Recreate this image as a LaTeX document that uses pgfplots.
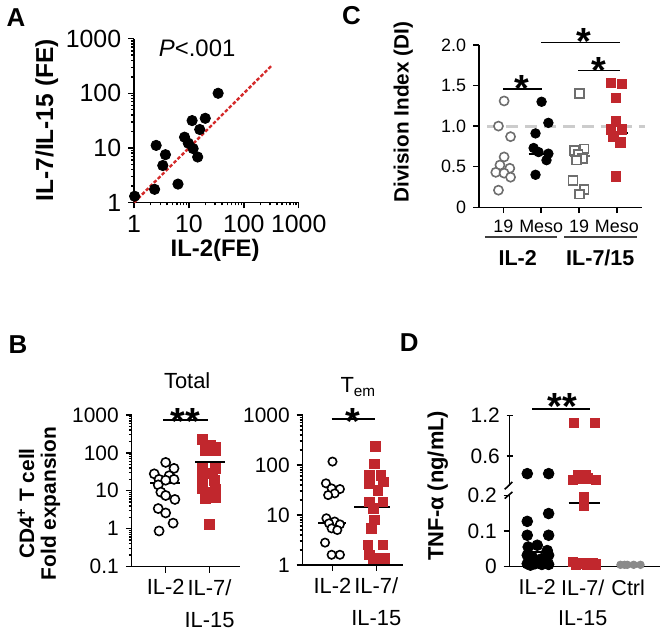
\documentclass[border=0pt]{standalone}
\usepackage{fontspec}
\setmainfont{Liberation Sans}
\usepackage{pgfplots}
\pgfplotsset{compat=1.18}
\definecolor{myred}{HTML}{C1272D}
\definecolor{lred}{HTML}{D42A2A}
\definecolor{dgray}{HTML}{6E6E6E}
\definecolor{lgray}{HTML}{CCCCCC}
\definecolor{cgray}{HTML}{8A8A8A}

\pgfplotsset{
  panel/.style={scale only axis, anchor=south west, axis lines=left,
    axis line style={-, line width=0.7pt}, tick align=outside,
    tick style={line width=0.7pt, black}, major tick length=3pt,
    minor tick length=1.5pt, clip=false},
  open circ/.style={only marks, mark=*, mark options={draw=#1, fill=white, line width=0.8pt}},
  med/.style={black, line width=1pt},
}
\newcommand{\fs}[1]{\fontsize{#1}{#1}\selectfont}

\begin{document}
\begin{tikzpicture}
\begin{scope}[x=0.5pt,y=-0.5pt]
\useasboundingbox (0,0) rectangle (664,632);
\end{scope}

% ---- A: scatter IL-2 vs IL-7/IL-15
\begin{axis}[panel, at={(65.85pt,-101.25pt)}, width=82.65pt, height=82.25pt,
  xmode=log, ymode=log, xmin=1, xmax=1000, ymin=1, ymax=1000,
  xtick={1,10,100,1000}, xticklabels={1,10,100,1000},
  ytick={1,10,100,1000}, yticklabels={1,10,100,1000},
  minor xtick={2,3,4,5,6,7,8,9,20,30,40,50,60,70,80,90,200,300,400,500,600,700,800,900},
  minor ytick={2,3,4,5,6,7,8,9,20,30,40,50,60,70,80,90,200,300,400,500,600,700,800,900},
  ticklabel style={font=\fs{12.5}}]
\addplot[lred, line width=1.2pt, dash pattern=on 1.8pt off 1pt] coordinates {(1,1) (316,316)};
\addplot[only marks, mark=*, mark size=2.6pt, black] coordinates {
  (1.02,1.3) (2.36,1.74) (2.52,11.1) (3.72,7.5) (3.33,4.75) (6.3,2.17) (8.3,15.7)
  (9.7,12.2) (11.9,9.7) (14.4,6.8) (11.4,31.6) (15.7,21.7) (19.8,34.8) (34,100)};
\end{axis}

% ---- C: division index
\begin{axis}[panel, at={(239.15pt,-103.65pt)}, width=81.7pt, height=81.5pt,
  xmin=0.36, xmax=4.66, ymin=0, ymax=2,
  xtick={1,2,3,4}, xticklabels={19,Meso,19,Meso},
  ytick={0,0.5,1,1.5,2}, yticklabels={0,0.5,1.0,1.5,2.0},
  ticklabel style={font=\fs{9}}]
\addplot[lgray, line width=1.6pt, dash pattern=on 6pt off 3.5pt] coordinates {(0.58,1) (4.74,1)};
\addplot[open circ=dgray, mark size=2.3pt] coordinates {
  (1.02,1.31) (0.87,1.00) (1.19,0.87) (1.02,0.62) (0.91,0.52) (1.17,0.48)
  (0.80,0.43) (1.02,0.42) (1.19,0.37) (0.87,0.21)};
\addplot[only marks, mark=*, mark size=2.4pt, black] coordinates {
  (2.01,1.30) (2.19,1.04) (1.85,0.91) (1.80,0.73) (1.93,0.68) (2.19,0.66) (2.14,0.58) (1.85,0.40)};
\addplot[only marks, mark=square*, mark size=2.2pt, mark options={draw=dgray, fill=white, line width=0.8pt}] coordinates {
  (3.01,1.40) (2.88,0.70) (3.14,0.72) (2.98,0.65) (3.09,0.60) (2.93,0.58) (2.84,0.33) (3.14,0.22) (3.01,0.16)};
\addplot[only marks, mark=square*, mark size=2.4pt, myred] coordinates {
  (3.84,1.53) (4.13,1.52) (3.98,1.35) (3.98,1.06) (3.84,0.96) (4.13,0.96) (3.91,0.87) (4.10,0.80) (3.98,0.38)};
\addplot[dgray, line width=1pt] coordinates {(0.71,0.47) (1.32,0.47)};
\addplot[med] coordinates {(1.67,0.65) (2.32,0.65)};
\addplot[dgray, line width=1pt] coordinates {(2.77,0.63) (3.30,0.63)};
\addplot[med] coordinates {(3.80,0.91) (4.30,0.91)};
\end{axis}

% ---- B: total
\begin{axis}[panel, at={(64.65pt,-284.15pt)}, width=54.5pt, height=76.15pt,
  ymode=log, xmin=0.227, xmax=2.70, ymin=0.1, ymax=1000,
  xtick={1,2}, xticklabels={IL-2,IL-7/\\IL-15},
  ytick={0.1,1,10,100,1000}, yticklabels={0.1,1,10,100,1000},
  minor ytick={0.2,0.3,0.4,0.5,0.6,0.7,0.8,0.9,2,3,4,5,6,7,8,9,20,30,40,50,60,70,80,90,200,300,400,500,600,700,800,900},
  yticklabel style={font=\fs{10.5}},
  xticklabel style={font=\fontsize{11}{16}\selectfont, align=center}]
\addplot[open circ=black, mark size=2.3pt] coordinates {
  (1.0,56) (0.74,28) (1.19,39) (1.08,25) (0.85,20) (1.19,20) (1.0,19) (0.83,14.3)
  (0.89,9.2) (1.0,7.5) (1.21,5.9) (0.83,3.4) (1.0,2.6) (1.17,1.4) (0.85,0.87)};
\addplot[only marks, mark=square*, mark size=2.5pt, myred] coordinates {
  (1.83,230) (2.02,154) (2.14,140) (1.91,113) (2.14,113) (1.83,38) (2.14,38) (2.06,28)
  (1.83,20.5) (2.10,18.5) (1.83,11.2) (2.14,11) (2.0,9) (2.14,6.8) (1.91,6.1) (2.0,1.27)};
\addplot[med] coordinates {(0.65,16) (1.33,16)};
\addplot[med] coordinates {(1.67,56) (2.35,56)};
\end{axis}

% ---- B: Tem
\begin{axis}[panel, at={(150.5pt,-283.35pt)}, width=50.35pt, height=75.35pt,
  ymode=log, xmin=0.318, xmax=2.61, ymin=1, ymax=1000,
  xtick={1,2}, xticklabels={IL-2,IL-7/\\IL-15},
  ytick={1,10,100,1000}, yticklabels={1,10,100,1000},
  minor ytick={2,3,4,5,6,7,8,9,20,30,40,50,60,70,80,90,200,300,400,500,600,700,800,900},
  yticklabel style={font=\fs{10.5}},
  xticklabel style={font=\fontsize{11}{16}\selectfont, align=center}]
\addplot[open circ=black, mark size=2.1pt] coordinates {
  (1.0,117) (0.85,43) (0.98,34) (1.17,33) (1.05,27) (0.90,25) (0.86,8.6) (1.05,7.4)
  (0.92,6.8) (1.17,6.5) (0.98,5.4) (1.11,5.0) (0.83,2.8) (0.98,1.6) (1.17,1.6)};
\addplot[only marks, mark=square*, mark size=2.4pt, myred] coordinates {
  (1.98,233) (1.96,106) (1.85,62) (2.11,62) (1.85,42) (2.17,46) (2.04,31) (1.85,18.3)
  (2.15,18.3) (1.93,13.5) (1.96,7.9) (1.89,5.4) (2.15,2.5) (1.81,2.5) (1.85,1.58) (1.93,1.36) (2.19,1.36)};
\addplot[med] coordinates {(0.68,7.0) (1.32,7.0)};
\addplot[med] coordinates {(1.50,14.7) (2.32,14.7)};
\end{axis}

% ---- D: TNF-alpha, lower segment
\begin{axis}[panel, at={(254.5pt,-284.15pt)}, width=75.5pt, height=36.65pt,
  xmin=0.394, xmax=3.70, ymin=0, ymax=0.205,
  xtick={1,2,3}, xticklabels={IL-2,IL-7/\\IL-15,Ctrl},
  major x tick style={draw=none},
  ytick={0,0.1,0.2}, yticklabels={0,0.1,0.2},
  yticklabel style={font=\fs{10.5}},
  xticklabel style={font=\fontsize{10.8}{15}\selectfont, align=center, inner xsep=0pt}]
\addplot[only marks, mark=*, mark size=2.7pt, black] coordinates {
  (1.25,0.149) (0.78,0.127) (0.78,0.088) (1.25,0.088) (1.0,0.060) (0.80,0.055) (1.22,0.045)
  (0.78,0.032) (1.25,0.032) (0.9,0.025) (1.1,0.022) (0.78,0.008) (0.95,0.008) (1.1,0.006)
  (1.25,0.006) (0.85,0.004)};
\addplot[only marks, mark=square*, mark size=2.3pt, myred] coordinates {
  (2.02,0.195) (2.02,0.17) (1.78,0.012) (1.9,0.008) (2.0,0.01) (2.1,0.006) (2.22,0.01)
  (2.29,0.006) (1.85,0.004)};
\addplot[only marks, mark=*, mark size=1.9pt, cgray] coordinates {
  (2.83,0.005) (2.92,0.005) (2.98,0.005) (3.12,0.005) (3.27,0.005)};
\addplot[med] coordinates {(0.85,0.04) (1.15,0.04)};
\addplot[med] coordinates {(1.69,0.18) (2.37,0.18)};
\end{axis}

% ---- D: upper segment
\begin{axis}[panel, at={(254.5pt,-244pt)}, width=75.5pt, height=35.65pt,
  axis x line=none, axis y line=left, axis line style={-},
  xmin=0.394, xmax=3.70, ymin=0.147, ymax=1.2,
  ytick={0.6,1.2}, yticklabels={0.6,1.2},
  yticklabel style={font=\fs{10.5}}]
\addplot[only marks, mark=*, mark size=2.7pt, black] coordinates {(0.78,0.34) (1.25,0.34)};
\addplot[only marks, mark=square*, mark size=2.3pt, myred] coordinates {
  (1.80,1.09) (2.26,1.09) (1.89,0.32) (2.07,0.32) (1.78,0.25) (1.96,0.26) (2.29,0.25) (2.12,0.27)};
\end{axis}

% ---- annotations (pixel units of the reference)
\begin{scope}[x=0.5pt,y=-0.5pt]
\node[font=\fs{13}\bfseries] at (13,17) {A};
\node[font=\fs{13}\bfseries] at (350,15) {C};
\node[font=\fs{13}\bfseries] at (15,345) {B};
\node[font=\fs{13}\bfseries] at (408,343) {D};

% A labels
\node[font=\fs{12}] at (195,48) {\textit{P}<.001};
\node[font=\fs{12}\bfseries] at (213,251) {IL-2(FE)};
\node[font=\fs{12.3}\bfseries, rotate=90] at (44,120) {IL-7/IL-15 (FE)};

% C labels
\node[font=\fs{10.4}\bfseries, rotate=90] at (402,112) {Division Index (DI)};
\draw[line width=0.8pt, black!75] (484,237.3) -- (557,237.3);
\draw[line width=0.8pt, black!75] (564,237.3) -- (637,237.3);
\node[font=\fs{10.8}\bfseries] at (517,258) {IL-2};
\node[font=\fs{10.8}\bfseries] at (600,258) {IL-7/15};
\draw[line width=0.8pt] (502.7,88.3) -- (541.7,88.3);
\draw[line width=0.8pt] (577.7,70) -- (619.3,70);
\draw[line width=0.8pt] (540.7,41.7) -- (619.3,41.7);
\node[font=\fs{19}\bfseries, anchor=base] at (521,101) {*};
\node[font=\fs{19}\bfseries, anchor=base] at (598.3,83) {*};
\node[font=\fs{19}\bfseries, anchor=base] at (583.3,53.7) {*};

% B labels
\node[font=\fontsize{10.5}{11}\selectfont\bfseries, rotate=90, align=center] at (36,505)
  {CD4\textsuperscript{+} T cell\\Fold expansion};
\node[font=\fs{11}] at (185,382) {Total};
\node[font=\fs{11}] at (357,388) {T\textsubscript{em}};
\draw[line width=0.9pt] (160.7,420.7) -- (206,420.7);
\node[font=\fs{19}\bfseries, anchor=base] at (183.3,436) {**};
\draw[line width=0.9pt] (330,420) -- (374,420);
\node[font=\fs{19}\bfseries, anchor=base] at (351.7,436) {*};

% D labels
\node[font=\fs{11}\bfseries, rotate=90] at (436.7,487) {TNF-α (ng/mL)};
\draw[line width=0.9pt] (531.7,410) -- (589.3,410);
\node[font=\fs{19}\bfseries, anchor=base] at (561.7,421) {**};
\fill[white] (502,487) rectangle (516,495);
\draw[line width=0.8pt] (504,490.7) -- (511.7,483.3);
\draw[line width=0.8pt] (504,500) -- (511.7,493.3);
\end{scope}
\end{tikzpicture}
\end{document}
